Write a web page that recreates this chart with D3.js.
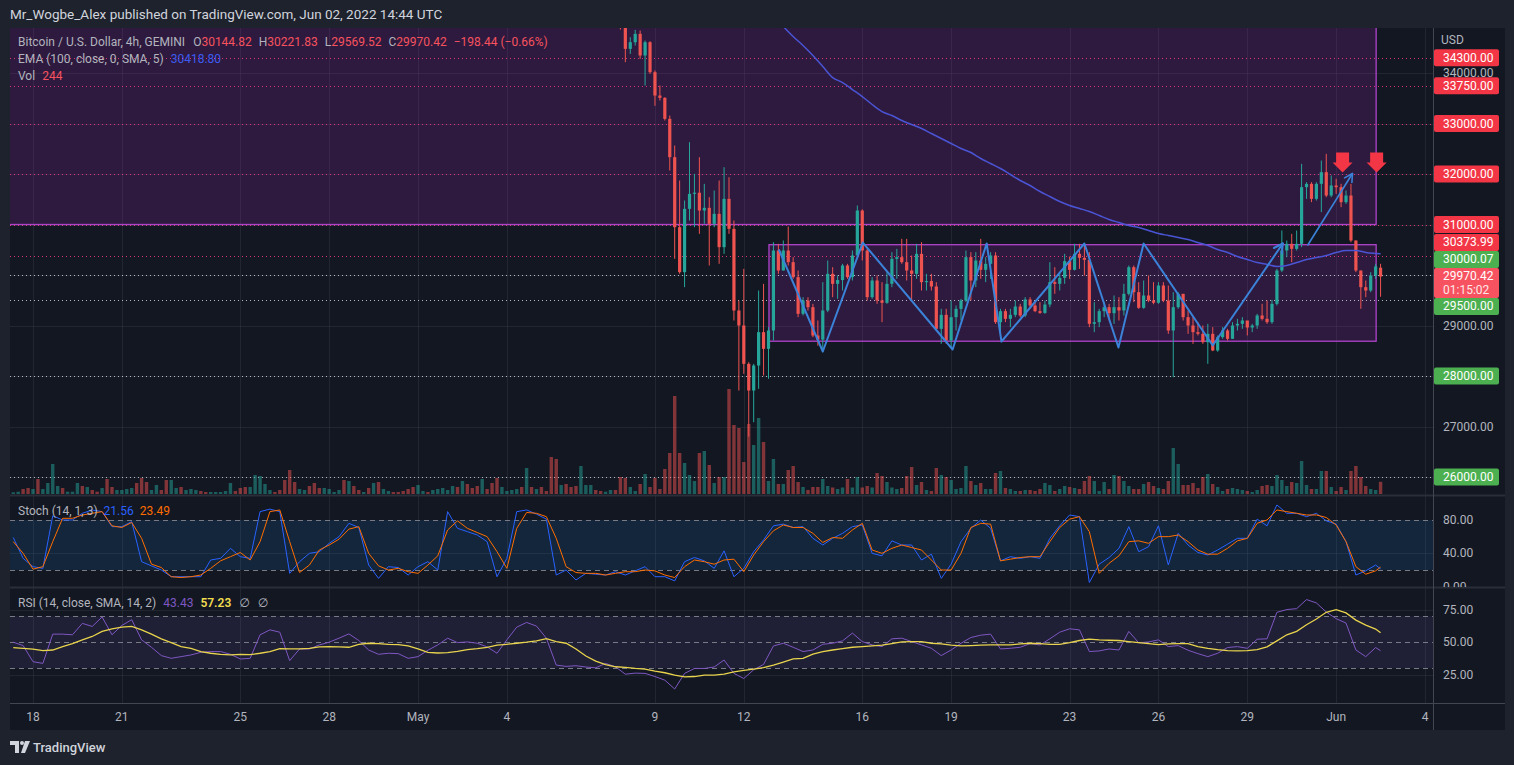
<!DOCTYPE html>
<html>
<head>
<meta charset="utf-8">
<title>BTCUSD 4h</title>
<script src="https://cdn.jsdelivr.net/npm/d3@7"></script>
<style>
  html, body { margin: 0; padding: 0; background: #1e222d; overflow: hidden; }
  svg { display: block; font-family: Roboto, "Noto Sans", "DejaVu Sans", sans-serif; }
</style>
</head>
<body>
<svg id="chart" width="1514" height="765"></svg>
<script>
// ---------------------------------------------------------------
// Data (4h bars, GEMINI BTC/USD)
// ---------------------------------------------------------------
const firstBarTime = Date.UTC(2022, 3, 17, 8);   // bar 0 = Apr 17 08:00 UTC
const barHours = 4;

// volume per bar (BTC), bars 0..277
const volumes = [
    34, 46, 100, 120, 100, 300, 100, 220, 600, 160,
    120, 46, 46, 220, 160, 140, 80, 46, 120, 300,
    140, 80, 80, 100, 120, 220, 320, 240, 80, 180,
    80, 280, 280, 120, 140, 80, 100, 80, 60, 40,
    40, 40, 40, 60, 220, 60, 120, 140, 140, 380,
    360, 200, 80, 40, 80, 280, 480, 240, 100, 80,
    160, 220, 120, 120, 100, 40, 80, 280, 260, 160,
    80, 40, 120, 220, 240, 100, 60, 40, 40, 60,
    100, 140, 180, 60, 40, 80, 100, 120, 80, 160,
    140, 260, 200, 120, 160, 300, 100, 220, 320, 140,
    60, 80, 100, 140, 520, 140, 100, 140, 60, 740,
    700, 180, 200, 140, 160, 560, 180, 180, 80, 60,
    46, 80, 80, 340, 320, 140, 60, 200, 400, 140,
    320, 100, 500, 820, 1960, 820, 620, 380, 260, 820,
    860, 580, 220, 340, 340, 2100, 1380, 1320, 640, 1400,
    980, 1520, 1040, 260, 700, 200, 200, 480, 560, 240,
    140, 80, 140, 140, 300, 160, 130, 100, 130, 300,
    130, 340, 130, 160, 130, 420, 360, 240, 130, 100,
    120, 360, 540, 180, 240, 80, 60, 520, 380, 340,
    280, 100, 120, 560, 260, 180, 220, 100, 100, 420,
    460, 120, 100, 60, 60, 80, 80, 60, 100, 220,
    180, 60, 100, 160, 140, 120, 100, 260, 360, 260,
    60, 240, 100, 380, 360, 260, 160, 100, 100, 200,
    240, 160, 120, 100, 260, 920, 600, 180, 180, 220,
    120, 340, 400, 200, 140, 60, 100, 120, 100, 80,
    60, 40, 80, 160, 180, 160, 380, 280, 160, 240,
    220, 660, 180, 100, 100, 460, 460, 140, 60, 140,
    80, 460, 560, 340, 160, 100, 80, 244
];

// up (u) / down (d) for bars 0..122, whose candles sit above the visible range
const earlyBarDir =
    "uudduduuuu" + "duuududdud" + "duuuuddduu" + "dduuduuudd" +
    "uuuuuddduu" + "uuuddddduu" + "ddduuuudud" + "dududuuddd" +
    "dduuduuuuu" + "dudddudddu" + "uuudududdd" + "duddduuudd" + "uud";

// candles from bar 123 on (earlier bars are above the top of the pane)
const candleStart = 123;
const opens = [
    35400, 35050, 34478, 34610, 34775, 34346, 34610, 34016, 33554, 33508,
    33092, 32333, 30947, 30056, 31310, 31607, 31630, 31277, 31330, 31013,
    31211, 30551, 31508, 30914, 29297, 29000, 28241, 27713, 28208, 28868,
    28538, 28901, 30485, 30089, 30485, 30254, 29957, 29231, 29495, 29363,
    28802, 28720, 29297, 30023, 29825, 29900, 30188, 29957, 30386, 31277,
    30485, 29561, 29891, 29495, 29450, 29825, 30320, 30353, 30254, 30089,
    30023, 30419, 29858, 29880, 29772, 28934, 29211, 28703, 29165, 29330,
    29495, 30353, 29891, 30287, 30102, 30221, 30386, 29066, 29284, 29132,
    29211, 29376, 29198, 29515, 29396, 29284, 29250, 29416, 29858, 29825,
    29944, 30274, 30102, 30419, 30340, 30300, 29033, 29066, 29284, 29363,
    29244, 29363, 29297, 29627, 30155, 29660, 29350, 29594, 29495, 29450,
    29792, 29495, 28901, 29363, 29627, 29165, 29000, 28868, 28835, 28670,
    28835, 28505, 28769, 28901, 28736, 29000, 29033, 29099, 28960, 29000,
    29198, 29132, 29066, 29429, 30089, 30485, 30617, 30518, 30617, 31739,
    31805, 31508, 31805, 32036, 31574, 31772, 31739, 31442, 31574, 30683,
    30089, 29759, 29693, 29990, 30144.82
];
const highs = [
    35700, 35100, 34709, 34854, 34841, 34643, 34630, 34050, 33752, 33521,
    33158, 32564, 31871, 31475, 32630, 32003, 32333, 31805, 31541, 31673,
    31871, 32135, 31937, 31079, 29495, 30122, 28274, 28241, 29693, 29825,
    28967, 30650, 30617, 30683, 30960, 30353, 30089, 29561, 29560, 29429,
    29099, 29858, 30287, 30155, 29990, 30221, 30221, 30485, 31376, 31300,
    30520, 29957, 29990, 29858, 30056, 30452, 30518, 30716, 30716, 30386,
    30617, 30650, 30023, 30023, 29858, 29330, 29330, 29495, 29396, 29528,
    30485, 30452, 30452, 30716, 30353, 30452, 30452, 29330, 29330, 29330,
    29495, 29429, 29561, 29561, 29462, 29462, 29495, 30254, 30155, 30056,
    30419, 30366, 30617, 30617, 30617, 30452, 29462, 29330, 29462, 29429,
    29594, 29561, 29825, 30188, 30188, 29858, 29891, 29990, 29858, 29858,
    29858, 29792, 29660, 29660, 29627, 29297, 29165, 29066, 29000, 29033,
    28967, 28802, 28967, 28934, 29066, 29132, 29165, 29066, 29033, 29231,
    29429, 29495, 29508, 30122, 30881, 30683, 30815, 30881, 32201, 31838,
    31838, 31838, 32267, 32399, 31970, 31904, 31805, 31673, 31805, 30683,
    30089, 29891, 30056, 30221, 30221.83
];
const lows = [
    34860, 34214, 34379, 34544, 34280, 33752, 33983, 33350, 33455, 33059,
    32069, 30320, 30023, 29759, 31079, 30947, 30815, 31013, 30188, 30947,
    30221, 30419, 30815, 29099, 27713, 28043, 26800, 27086, 27746, 28010,
    27944, 28703, 30023, 30089, 30188, 29924, 29165, 29198, 29297, 28769,
    28600, 28472, 29264, 29561, 29528, 29693, 29924, 29891, 30386, 30287,
    29495, 29528, 29429, 29066, 29429, 29759, 29924, 30221, 29891, 29495,
    29924, 29693, 29693, 29693, 28901, 28637, 28637, 28560, 28901, 29099,
    29462, 29495, 29759, 29924, 29858, 29924, 29033, 28769, 29066, 28967,
    29165, 29165, 29165, 29330, 29264, 29230, 29231, 29363, 29627, 29693,
    29825, 29924, 30089, 30122, 29990, 28967, 28868, 28967, 29165, 29099,
    29033, 29099, 29198, 29594, 29462, 29330, 29330, 29462, 29420, 29430,
    29462, 28835, 27977, 29330, 29099, 28835, 28637, 28802, 28637, 28241,
    28492, 28480, 28736, 28703, 28736, 28901, 28934, 28802, 28868, 28934,
    29099, 29033, 29033, 29396, 30056, 30353, 30254, 30485, 30551, 31508,
    31442, 31475, 31244, 31541, 31541, 31607, 31343, 31409, 30650, 30056,
    29330, 29561, 29660, 29924, 29569.52
];
const closes = [
    35050, 34478, 34610, 34775, 34346, 34610, 34016, 33554, 33508, 33092,
    32333, 30947, 30056, 31310, 31607, 31630, 31277, 31330, 31013, 31211,
    30551, 31508, 30914, 29297, 29000, 28241, 27713, 28208, 28868, 28538,
    28901, 30485, 30089, 30485, 30254, 29957, 29231, 29495, 29363, 28802,
    28720, 29297, 30023, 29825, 29900, 30188, 29957, 30386, 31277, 30485,
    29561, 29891, 29495, 29450, 29825, 30320, 30353, 30254, 30089, 30023,
    30419, 29858, 29880, 29772, 28934, 29211, 28703, 29165, 29330, 29495,
    30353, 29891, 30287, 30102, 30221, 30386, 29066, 29284, 29132, 29211,
    29376, 29198, 29515, 29396, 29284, 29250, 29416, 29858, 29825, 29944,
    30274, 30102, 30419, 30340, 30300, 29033, 29066, 29284, 29363, 29244,
    29363, 29297, 29627, 30155, 29660, 29350, 29594, 29495, 29450, 29792,
    29495, 28901, 29363, 29627, 29165, 29000, 28868, 28835, 28670, 28835,
    28505, 28769, 28901, 28736, 29000, 29033, 29099, 28960, 29000, 29198,
    29132, 29066, 29429, 30089, 30485, 30617, 30518, 30617, 31739, 31805,
    31508, 31805, 32036, 31574, 31772, 31739, 31442, 31574, 30683, 30089,
    29759, 29693, 29990, 30168.86, 29970.42
];

// EMA(100) sampled every 2 bars from bar 156 (plus the live bar 277)
const emaStart = 156;
const emaValues = [
    34920, 34722, 34544, 34346, 34128, 33910, 33811, 33673, 33534, 33376,
    33237, 33158, 33059, 32980, 32901, 32802, 32703, 32604, 32505, 32425,
    32307, 32208, 32109, 31990, 31871, 31772, 31653, 31554, 31455, 31376,
    31317, 31257, 31178, 31099, 31039, 30980, 30940, 30881, 30822, 30782,
    30742, 30703, 30643, 30584, 30505, 30445, 30366, 30307, 30247, 30208,
    30168, 30188, 30247, 30307, 30346, 30386, 30445, 30485, 30485, 30445,
    30426, 30418.80
];

// oscillators sampled every 2 bars from bar 0 (plus the live bar 277)
const stochK = [
    59, 34, 24, 22, 85, 80, 80, 88, 92, 90,
    72, 72, 78, 30, 25, 20, 12, 12, 12, 12,
    32, 34, 46, 36, 34, 90, 93, 90, 16, 30,
    40, 42, 52, 60, 76, 71, 26, 10, 24, 23,
    14, 24, 30, 20, 90, 70, 66, 62, 54, 12,
    34, 90, 92, 87, 81, 14, 20, 8, 16, 15,
    14, 18, 14, 19, 24, 12, 12, 7, 30, 35,
    31, 22, 43, 12, 22, 42, 56, 73, 75, 71,
    72, 58, 50, 58, 64, 72, 74, 40, 37, 55,
    50, 50, 32, 39, 10, 27, 54, 70, 80, 70,
    31, 36, 34, 36, 34, 58, 73, 86, 84, 5,
    27, 35, 46, 72, 42, 48, 73, 26, 64, 50,
    41, 38, 44, 51, 58, 58, 81, 73, 98, 88,
    88, 84, 88, 79, 75, 54, 14, 19, 26, 21.56
];
const stochD = [
    54, 40, 21, 24, 54, 82, 82, 86, 88, 90,
    73, 71, 77, 58, 27, 23, 12, 11, 12, 14,
    22, 31, 36, 41, 32, 54, 90, 92, 54, 17,
    26, 44, 50, 57, 69, 72, 40, 25, 20, 22,
    18, 16, 26, 37, 68, 79, 70, 65, 60, 42,
    22, 70, 89, 88, 84, 58, 24, 17, 16, 16,
    14, 16, 18, 18, 20, 19, 14, 11, 24, 32,
    30, 27, 32, 33, 18, 38, 54, 67, 74, 71,
    71, 64, 53, 59, 58, 68, 76, 44, 40, 46,
    50, 47, 44, 32, 20, 20, 40, 71, 76, 75,
    31, 33, 35, 36, 36, 54, 71, 81, 84, 66,
    16, 28, 37, 54, 55, 52, 60, 60, 62, 54,
    44, 39, 39, 46, 55, 58, 76, 80, 92, 90,
    88, 86, 86, 83, 74, 54, 24, 15, 19, 23.49
];
const rsiValues = [
    50.0, 47.4, 35.0, 33.7, 56.2, 56.2, 55.7, 64.5, 62.1, 69.4,
    55.7, 62.9, 67.3, 51.8, 46.1, 39.7, 37.6, 38.9, 40.2, 42.2,
    42.8, 42.8, 40.7, 37.1, 37.6, 55.7, 59.5, 57.7, 35.8, 44.8,
    44.8, 47.9, 50.0, 53.1, 56.4, 51.3, 44.0, 40.7, 41.5, 41.2,
    37.6, 38.9, 43.8, 47.9, 53.1, 49.7, 50.2, 49.2, 46.4, 41.5,
    51.8, 61.6, 65.2, 62.4, 53.1, 32.4, 31.4, 31.9, 30.9, 30.3,
    33.7, 31.1, 25.4, 26.2, 26.0, 23.6, 20.8, 14.0, 26.0, 29.8,
    29.8, 30.9, 36.3, 26.0, 22.1, 28.8, 32.9, 47.1, 49.2, 46.1,
    42.8, 44.0, 48.4, 49.2, 51.0, 57.0, 50.5, 47.9, 46.6, 52.6,
    53.1, 50.5, 47.9, 45.3, 39.7, 44.0, 49.2, 53.6, 55.4, 56.2,
    44.8, 45.3, 46.1, 48.9, 47.9, 52.6, 57.7, 60.3, 59.5, 42.8,
    43.3, 44.8, 44.0, 58.3, 49.5, 50.2, 51.8, 46.6, 47.4, 43.8,
    41.2, 38.9, 41.5, 45.9, 46.6, 45.3, 52.3, 52.6, 73.0, 75.1,
    75.8, 82.8, 80.2, 73.2, 68.1, 64.7, 44.0, 38.9, 45.9, 43.43
];
const rsiMA = [
    45.9, 45.3, 44.6, 43.5, 44.0, 46.6, 48.9, 51.8, 54.4, 58.3,
    60.3, 61.6, 62.1, 59.5, 56.2, 52.6, 49.7, 46.6, 45.3, 42.8,
    41.5, 40.7, 40.2, 40.7, 40.4, 41.5, 42.8, 45.1, 44.8, 44.8,
    45.3, 46.4, 46.6, 46.4, 46.1, 48.4, 49.2, 48.9, 48.4, 48.2,
    47.2, 44.8, 42.2, 41.7, 42.0, 43.0, 44.3, 45.1, 46.1, 47.7,
    48.4, 49.2, 50.0, 51.0, 52.8, 50.5, 49.2, 44.8, 39.4, 35.5,
    32.7, 31.1, 30.6, 29.8, 29.3, 27.8, 26.5, 24.7, 23.4, 23.6,
    24.7, 24.7, 25.4, 27.2, 28.3, 29.3, 30.4, 32.4, 34.7, 37.1,
    37.6, 40.9, 42.8, 44.0, 45.1, 46.1, 46.6, 47.1, 47.7, 48.9,
    50.2, 50.5, 50.5, 49.2, 48.7, 47.7, 47.1, 47.4, 47.7, 47.9,
    47.9, 47.9, 48.7, 49.2, 48.9, 48.4, 48.4, 49.7, 51.3, 52.3,
    51.8, 51.5, 51.3, 50.5, 49.7, 48.9, 48.2, 48.7, 48.9, 48.9,
    46.6, 45.3, 44.3, 43.5, 43.3, 43.5, 44.3, 46.4, 51.0, 55.7,
    58.3, 63.4, 67.8, 73.0, 75.1, 72.5, 67.0, 63.2, 60.1, 57.23
];

// horizontal levels drawn on the chart
const resistanceLevels = [34300, 33750, 33000, 32000, 31000, 30373.99];
const supportLevels = [30000.07, 29500, 28000, 26000];

// axis ticks
const priceTicks = [26000, 27000, 28000, 29000, 30000, 31000, 32000, 33000, 34000];
const stochTicks = [0, 40, 80];
const rsiTicks = [25, 50, 75];
const dayTicks = ["2022-04-18", "2022-04-21", "2022-04-25", "2022-04-28", "2022-05-01",
    "2022-05-04", "2022-05-09", "2022-05-12", "2022-05-16", "2022-05-19", "2022-05-23",
    "2022-05-26", "2022-05-29", "2022-06-01", "2022-06-04"];
const dayLabels = ["18", "21", "25", "28", "May", "4", "9", "12", "16", "19", "23", "26", "29", "Jun", "4"];

// drawings, in (bar index, price)
const supplyZone = { from: -6, to: 276.1, low: 31000, high: 36000 };
const rangeBox = { from: 153.1, to: 276.1, low: 28689, high: 30600 };
const zigzagBars = [155.1, 164, 172.1, 190.3, 197.2, 200.2, 217, 223.9, 229, 243, 257.2];
const zigzagPrices = [30505, 28485, 30643, 28525, 30624, 28683, 30624, 28564, 30624, 28604, 30624];
const breakoutBars = [262.2, 271.3];
const breakoutPrices = [30584, 32010];
const sellMarkBars = [269.3, 276.2];
const sellMarkPrice = 32029;

// ---------------------------------------------------------------
// Layout
// ---------------------------------------------------------------
const W = 1514, H = 765;
const left = 10, right = 1433, axisRight = 1505;
const mainTop = 28, mainBottom = 495;
const stochTop = 496, stochBottom = 587;
const rsiTop = 588, rsiBottom = 703;
const timeBottom = 730;

const col = {
    frame: "#1e222d", bg: "#131722", grid: "rgba(54,58,69,0.45)", border: "#434651",
    text: "#b2b5be", up: "#26a69a", down: "#ef5350", red: "#f23645", green: "#4caf50",
    value: "#f7525f", ema: "#4a54d4", zig: "#3b82d9", purple: "#9c27b0"
};

const svg = d3.select("#chart");

const x = d3.scaleUtc()
    .domain([new Date(Date.UTC(2022, 3, 18)), new Date(Date.UTC(2022, 5, 4))])
    .range([33, 1425]);
const barX = i => x(new Date(firstBarTime + i * barHours * 3600e3));
const y = d3.scaleLinear().domain([26000, 34000]).range([477, 73]);
const yVol = d3.scaleLinear().domain([0, 2000]).range([494, 394]);
const yStoch = d3.scaleLinear().domain([0, 100]).range([586.7, 503.3]);
const yRsi = d3.scaleLinear().domain([25, 75]).range([674.7, 609.7]);

const oscBars = d3.range(0, 277, 2).concat([277]);
const emaBars = d3.range(emaStart, 277, 2).concat([277]);
const candles = opens.map((o, k) => ({ i: candleStart + k, o, h: highs[k], l: lows[k], c: closes[k] }));
const fmt = d3.format(".2f");

/**
 * Frame, pane backgrounds and clip paths.
 */
function drawFrame() {
    svg.append("rect").attr("width", W).attr("height", H).attr("fill", col.frame);
    svg.append("rect").attr("x", left).attr("y", mainTop)
        .attr("width", axisRight - left).attr("height", timeBottom - mainTop)
        .attr("fill", col.bg);
    const defs = svg.append("defs");
    [["clip-main", mainTop, mainBottom], ["clip-stoch", stochTop, stochBottom], ["clip-rsi", rsiTop, rsiBottom]]
        .forEach(([id, y0, y1]) => {
            defs.append("clipPath").attr("id", id).append("rect")
                .attr("x", left).attr("y", y0).attr("width", right - left).attr("height", y1 - y0);
        });
    defs.append("clipPath").attr("id", "clip-stoch-axis").append("rect")
        .attr("x", right).attr("y", stochTop).attr("width", axisRight - right).attr("height", stochBottom - stochTop);
}

/**
 * Faint grid lines in all three panes.
 */
function drawGrid() {
    const g = svg.append("g").attr("stroke", col.grid).attr("stroke-width", 1);
    g.selectAll(".vgrid").data(dayTicks).join("line")
        .attr("x1", d => Math.round(x(new Date(d + "T00:00:00Z"))) + 0.5)
        .attr("x2", d => Math.round(x(new Date(d + "T00:00:00Z"))) + 0.5)
        .attr("y1", mainTop).attr("y2", rsiBottom);
    const hl = (vals, scale) => g.append("g").selectAll("line").data(vals).join("line")
        .attr("x1", left).attr("x2", right)
        .attr("y1", d => Math.round(scale(d)) + 0.5).attr("y2", d => Math.round(scale(d)) + 0.5);
    hl(priceTicks, y);
    hl([40], yStoch);
    hl([25, 75], yRsi);
}

/**
 * Purple zones, dotted horizontal levels.
 */
function drawZonesAndLevels() {
    const g = svg.append("g").attr("clip-path", "url(#clip-main)");
    [supplyZone, rangeBox].forEach(z => {
        g.append("rect")
            .attr("x", barX(z.from)).attr("y", y(z.high))
            .attr("width", barX(z.to) - barX(z.from)).attr("height", y(z.low) - y(z.high))
            .attr("fill", "rgba(156,39,176,0.2)")
            .attr("stroke", "#b043cc").attr("stroke-width", 1.3);
    });
    const lines = (vals, color) => g.append("g").selectAll("line").data(vals).join("line")
        .attr("x1", left).attr("x2", right)
        .attr("y1", d => Math.round(y(d)) + 0.5).attr("y2", d => Math.round(y(d)) + 0.5)
        .attr("stroke", color).attr("stroke-width", 1).attr("stroke-dasharray", "1,3");
    lines(resistanceLevels, "rgba(242,54,120,0.9)");
    lines(supportLevels, "rgba(209,212,220,0.85)");
}

/**
 * Volume histogram, candlesticks and the EMA.
 */
function drawPrice() {
    const g = svg.append("g").attr("clip-path", "url(#clip-main)");
    const isUp = i => {
        const c = candles[i - candleStart];
        return c ? c.c >= c.o : earlyBarDir[i] === "u";
    };
    g.append("g").selectAll("rect").data(volumes).join("rect")
        .attr("x", (d, i) => barX(i) - 1.7)
        .attr("width", 3.4)
        .attr("y", d => yVol(d))
        .attr("height", d => yVol(0) - yVol(d))
        .attr("fill", (d, i) => isUp(i) ? "rgba(38,166,154,0.5)" : "rgba(239,83,80,0.5)");

    const cg = g.append("g").selectAll("g").data(candles).join("g")
        .attr("fill", d => d.c >= d.o ? col.up : col.down)
        .attr("stroke", d => d.c >= d.o ? col.up : col.down);
    cg.append("line")
        .attr("x1", d => barX(d.i)).attr("x2", d => barX(d.i))
        .attr("y1", d => y(d.h)).attr("y2", d => y(d.l))
        .attr("stroke-width", 1);
    cg.append("rect")
        .attr("x", d => barX(d.i) - 1.6).attr("width", 3.2)
        .attr("y", d => y(Math.max(d.o, d.c)))
        .attr("height", d => Math.max(1, Math.abs(y(d.o) - y(d.c))))
        .attr("stroke", "none");

    g.append("path")
        .datum(emaValues)
        .attr("fill", "none").attr("stroke", col.ema).attr("stroke-width", 1.5)
        .attr("d", d3.line().x((d, k) => barX(emaBars[k])).y(d => y(d)).curve(d3.curveMonotoneX));
}

/**
 * Draws an open arrow head at the end of a segment.
 */
function arrowHead(g, x0, y0, x1, y1, len, color, width) {
    const a = Math.atan2(y1 - y0, x1 - x0);
    [-0.5, 0.5].forEach(s => {
        g.append("line")
            .attr("x1", x1).attr("y1", y1)
            .attr("x2", x1 - len * Math.cos(a + s)).attr("y2", y1 - len * Math.sin(a + s))
            .attr("stroke", color).attr("stroke-width", width).attr("stroke-linecap", "round");
    });
}

/**
 * Zigzag pattern, breakout arrow and the two sell marks.
 */
function drawDrawings() {
    const g = svg.append("g").attr("clip-path", "url(#clip-main)");
    const pts = zigzagBars.map((b, k) => [barX(b), y(zigzagPrices[k])]);
    g.append("path")
        .attr("d", d3.line()(pts))
        .attr("fill", "none").attr("stroke", col.zig).attr("stroke-width", 2)
        .attr("stroke-linejoin", "round");
    const n = pts.length;
    arrowHead(g, pts[n - 2][0], pts[n - 2][1], pts[n - 1][0], pts[n - 1][1], 10, col.zig, 2);

    const bp = breakoutBars.map((b, k) => [barX(b), y(breakoutPrices[k])]);
    g.append("path").attr("d", d3.line()(bp))
        .attr("fill", "none").attr("stroke", col.zig).attr("stroke-width", 1.6);
    arrowHead(g, bp[0][0], bp[0][1], bp[1][0], bp[1][1], 9, col.zig, 1.6);

    g.selectAll(".sell").data(sellMarkBars).join("path")
        .attr("transform", d => `translate(${barX(d)},${y(sellMarkPrice)})`)
        .attr("d", "M0,0 L-10,-10 L-6.5,-10 L-6.5,-20 L6.5,-20 L6.5,-10 L10,-10 Z")
        .attr("fill", col.red);
}

/**
 * Stochastic and RSI panes.
 */
function drawOscillators() {
    const gs = svg.append("g").attr("clip-path", "url(#clip-stoch)");
    gs.append("rect").attr("x", left).attr("width", right - left)
        .attr("y", yStoch(80)).attr("height", yStoch(20) - yStoch(80))
        .attr("fill", "rgba(33,150,243,0.12)");
    gs.selectAll(".band").data([80, 20]).join("line")
        .attr("x1", left).attr("x2", right)
        .attr("y1", d => Math.round(yStoch(d)) + 0.5).attr("y2", d => Math.round(yStoch(d)) + 0.5)
        .attr("stroke", "#787b86").attr("stroke-dasharray", "5,4");
    const sline = d3.line().x((d, k) => barX(oscBars[k])).y(d => yStoch(d));
    gs.append("path").datum(stochK).attr("d", sline)
        .attr("fill", "none").attr("stroke", "#2962ff").attr("stroke-width", 1);
    gs.append("path").datum(stochD).attr("d", sline)
        .attr("fill", "none").attr("stroke", "#ff6d00").attr("stroke-width", 1);

    const gr = svg.append("g").attr("clip-path", "url(#clip-rsi)");
    gr.append("rect").attr("x", left).attr("width", right - left)
        .attr("y", yRsi(70)).attr("height", yRsi(30) - yRsi(70))
        .attr("fill", "rgba(126,87,194,0.12)");
    gr.selectAll(".band").data([70, 50, 30]).join("line")
        .attr("x1", left).attr("x2", right)
        .attr("y1", d => Math.round(yRsi(d)) + 0.5).attr("y2", d => Math.round(yRsi(d)) + 0.5)
        .attr("stroke", "#787b86").attr("stroke-dasharray", "5,4");
    const rline = d3.line().x((d, k) => barX(oscBars[k])).y(d => yRsi(d));
    gr.append("path").datum(rsiValues).attr("d", rline)
        .attr("fill", "none").attr("stroke", "#7e57c2").attr("stroke-width", 1);
    gr.append("path").datum(rsiMA).attr("d", rline)
        .attr("fill", "none").attr("stroke", "#e8d44d").attr("stroke-width", 1.3);
}

/**
 * Pane separators, price axis with its colored labels, time axis.
 */
function drawAxes() {
    const g = svg.append("g");
    [mainBottom, stochBottom].forEach(v => {
        g.append("line").attr("x1", left).attr("x2", axisRight)
            .attr("y1", v + 0.5).attr("y2", v + 0.5)
            .attr("stroke", "#2a2e39").attr("stroke-width", 2);
    });
    g.append("line").attr("x1", right + 0.5).attr("x2", right + 0.5)
        .attr("y1", mainTop).attr("y2", timeBottom).attr("stroke", col.border);
    g.append("line").attr("x1", left).attr("x2", axisRight)
        .attr("y1", rsiBottom + 0.5).attr("y2", rsiBottom + 0.5).attr("stroke", col.border);

    g.append("text").attr("x", 1441).attr("y", 40).attr("dominant-baseline", "central")
        .attr("font-size", 12).attr("fill", col.text).text("USD");

    // colored level labels, pushed apart around the live price label
    const last = candles[candles.length - 1];
    const cy = y(last.c);
    const curBox = [cy - 8.5, cy + 21.5];
    const levels = resistanceLevels.map(p => ({ p, fill: col.red }))
        .concat(supportLevels.map(p => ({ p, fill: col.green })))
        .map(d => Object.assign(d, { y: y(d.p) }));
    let limit = curBox[0];
    levels.filter(d => d.y < cy).sort((a, b) => b.y - a.y).forEach(d => {
        d.cy = Math.min(d.y + 8.5, limit) - 8.5;
        limit = d.cy - 8.5;
    });
    limit = curBox[1];
    levels.filter(d => d.y >= cy).sort((a, b) => a.y - b.y).forEach(d => {
        d.cy = Math.max(d.y - 8.5, limit) + 8.5;
        limit = d.cy + 8.5;
    });
    const boxes = levels.map(d => [d.cy - 8.5, d.cy + 8.5]).concat([curBox]);

    // plain ticks only where no colored label covers them
    const ticks = priceTicks.filter(p => {
        const t = y(p);
        return !boxes.some(b => t + 4 > b[0] && t - 4 < b[1]);
    });
    g.selectAll(".ptick").data(ticks).join("text")
        .attr("x", 1443).attr("y", d => y(d)).attr("dominant-baseline", "central")
        .attr("font-size", 12).attr("fill", col.text).text(d => fmt(d));

    const lg = g.selectAll(".plabel").data(levels).join("g");
    lg.append("rect").attr("x", 1434).attr("y", d => d.cy - 8.5)
        .attr("width", 65).attr("height", 17).attr("rx", 2).attr("fill", d => d.fill);
    lg.append("text").attr("x", 1443).attr("y", d => d.cy).attr("dominant-baseline", "central")
        .attr("font-size", 12).attr("fill", "#fff").text(d => fmt(d.p));

    g.append("rect").attr("x", 1434).attr("y", curBox[0]).attr("width", 65)
        .attr("height", curBox[1] - curBox[0]).attr("rx", 2).attr("fill", col.value);
    g.append("text").attr("x", 1443).attr("y", cy).attr("dominant-baseline", "central")
        .attr("font-size", 12).attr("fill", "#fff").text(fmt(last.c));
    g.append("text").attr("x", 1443).attr("y", cy + 14).attr("dominant-baseline", "central")
        .attr("font-size", 12).attr("fill", "#fde7e8").text("01:15:02");

    g.append("g").attr("clip-path", "url(#clip-stoch-axis)")
        .selectAll("text").data(stochTicks).join("text")
        .attr("x", 1443).attr("y", d => yStoch(d)).attr("dominant-baseline", "central")
        .attr("font-size", 12).attr("fill", col.text).text(d => fmt(d));
    g.selectAll(".rtick").data(rsiTicks).join("text")
        .attr("x", 1443).attr("y", d => yRsi(d)).attr("dominant-baseline", "central")
        .attr("font-size", 12).attr("fill", col.text).text(d => fmt(d));

    g.selectAll(".dtick").data(dayTicks).join("text")
        .attr("x", d => x(new Date(d + "T00:00:00Z"))).attr("y", 717)
        .attr("text-anchor", "middle").attr("dominant-baseline", "central")
        .attr("font-size", 12).attr("fill", col.text)
        .text((d, i) => dayLabels[i]);
}

/**
 * Writes a legend line made of colored pieces.
 */
function legendRow(yPos, parts) {
    const t = svg.append("text").attr("x", 18).attr("y", yPos)
        .attr("dominant-baseline", "central").attr("font-size", 12);
    parts.forEach(([txt, color, gap, weight]) => {
        t.append("tspan").attr("dx", gap || 0).attr("fill", color)
            .attr("font-weight", weight || null).text(txt);
    });
}

/**
 * Title bar, pane legends, footer logo.
 */
function drawTexts() {
    svg.append("text").attr("x", 10).attr("y", 14).attr("dominant-baseline", "central")
        .attr("font-size", 13.5).attr("fill", "#d1d4dc")
        .text("Mr_Wogbe_Alex published on TradingView.com, Jun 02, 2022 14:44 UTC");

    const last = candles[candles.length - 1];
    const prevClose = candles[candles.length - 2].c;
    const chg = last.c - prevClose;
    const minus = s => s.replace("-", "\u2212");
    legendRow(42, [
        ["Bitcoin / U.S. Dollar, 4h, GEMINI", col.text],
        ["O", col.text, 8], [fmt(last.o), col.value],
        ["H", col.text, 7], [fmt(last.h), col.value],
        ["L", col.text, 7], [fmt(last.l), col.value],
        ["C", col.text, 7], [fmt(last.c), col.value],
        [minus(fmt(chg)) + " (" + minus(fmt(chg / prevClose * 100)) + "%)", col.value, 7]
    ]);
    legendRow(59, [["EMA (100, close, 0, SMA, 5)", col.text], [fmt(emaValues[emaValues.length - 1]), "#3d5af1", 7]]);
    legendRow(76, [["Vol", col.text], [String(volumes[volumes.length - 1]), col.value, 7]]);
    legendRow(511, [["Stoch (14, 1, 3)", col.text], [fmt(stochK[stochK.length - 1]), "#2962ff", 6],
        [fmt(stochD[stochD.length - 1]), "#ff6d00", 6]]);
    legendRow(603, [["RSI (14, close, SMA, 14, 2)", col.text], [fmt(rsiValues[rsiValues.length - 1]), "#7e57c2", 7],
        [fmt(rsiMA[rsiMA.length - 1]), "#f0dc4e", 7, 600], ["\u2205", col.text, 8], ["\u2205", col.text, 8]]);

    const logo = svg.append("g").attr("fill", "#d1d4dc");
    logo.append("path").attr("d", "M10,741 h9 v12 h-4 v-8 h-5 Z");
    logo.append("circle").attr("cx", 22).attr("cy", 743).attr("r", 2);
    logo.append("path").attr("d", "M25,741 h5 l-5,12 h-4 Z");
    svg.append("text").attr("x", 33).attr("y", 747).attr("dominant-baseline", "central")
        .attr("font-size", 13).attr("font-weight", 500).attr("fill", "#d1d4dc").text("TradingView");
}

drawFrame();
drawGrid();
drawZonesAndLevels();
drawPrice();
drawDrawings();
drawOscillators();
drawAxes();
drawTexts();
</script>
</body>
</html>
